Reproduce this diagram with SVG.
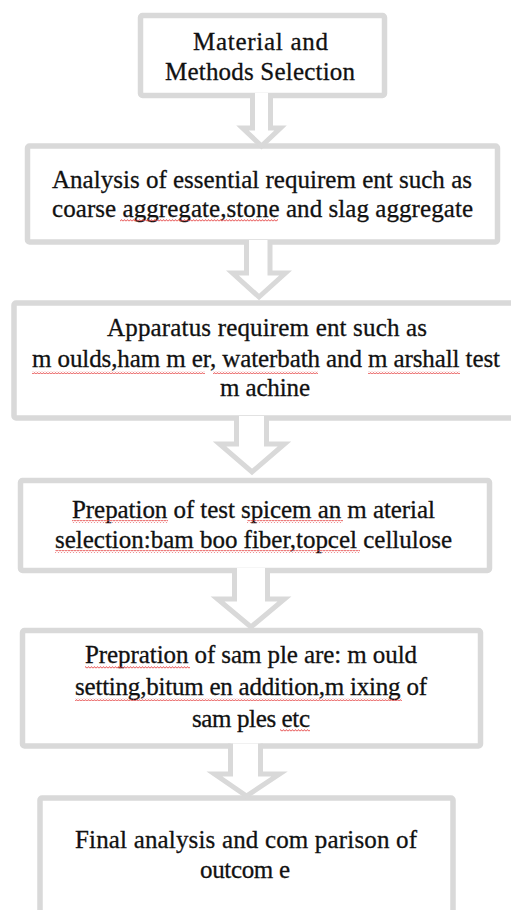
<svg xmlns="http://www.w3.org/2000/svg" width="511" height="910" viewBox="0 0 511 910">
<style>
.box{fill:#ffffff;stroke:#d9d9d9;stroke-width:5.5;}
.arr{fill:#ffffff;stroke:#d9d9d9;stroke-width:5;stroke-linejoin:miter;}
.t{font-family:"Liberation Serif","Times New Roman",serif;font-size:25px;fill:#111111;stroke:#111111;stroke-width:0.3;text-anchor:middle;}
.sq{fill:url(#wave);}
</style>
<defs>
<pattern id="wave" width="3" height="3" patternUnits="userSpaceOnUse">
<path d="M0,2.4 L1.5,0.6 L3,2.4" fill="none" stroke="#e23a3a" stroke-width="0.9"/>
</pattern>
</defs>
<rect x="0" y="0" width="511" height="910" fill="#ffffff"/>

<g id="n1">
<rect class="box" x="140.5" y="15.5" width="244" height="80" rx="2"/>
<text class="t" x="260.5" y="50" textLength="135" lengthAdjust="spacing">Material and</text>
<text class="t" x="260" y="80" textLength="190" lengthAdjust="spacing">Methods Selection</text>
</g>

<g id="n2">
<rect class="box" x="27.5" y="146" width="470" height="96" rx="2"/>
<text class="t" x="262" y="188" textLength="420" lengthAdjust="spacing">Analysis of essential requirem ent such as</text>
<text class="t" x="262.5" y="217" textLength="421" lengthAdjust="spacing">coarse aggregate,stone and slag aggregate</text>
<rect class="sq" x="120" y="219" width="158" height="3"/>
</g>

<g id="n3">
<rect class="box" x="14" y="303" width="502" height="115" rx="2"/>
<text class="t" x="267" y="336" textLength="320" lengthAdjust="spacing">Apparatus requirem ent such as</text>
<text class="t" x="266" y="367" textLength="468" lengthAdjust="spacing">m oulds,ham m er, waterbath and m arshall test</text>
<text class="t" x="265" y="396" textLength="90" lengthAdjust="spacing">m achine</text>
<rect class="sq" x="32" y="371" width="173" height="3"/>
<rect class="sq" x="213" y="371" width="105" height="3"/>
<rect class="sq" x="368" y="371" width="92" height="3"/>
</g>

<g id="n4">
<rect class="box" x="20.5" y="480.5" width="469" height="90" rx="2"/>
<text class="t" x="253.5" y="518" textLength="363" lengthAdjust="spacing">Prepation of test spicem an m aterial</text>
<text class="t" x="253.5" y="548" textLength="397" lengthAdjust="spacing">selection:bam boo fiber,topcel cellulose</text>
<rect class="sq" x="72" y="520" width="96" height="3"/>
<rect class="sq" x="247" y="520" width="96" height="3"/>
<rect class="sq" x="55" y="550" width="305" height="3"/>
</g>

<g id="n5">
<rect class="box" x="22.5" y="630.5" width="458" height="115.5" rx="2"/>
<text class="t" x="251" y="663" textLength="332" lengthAdjust="spacing">Prepration of sam ple are: m ould</text>
<text class="t" x="251" y="695" textLength="352" lengthAdjust="spacing">setting,bitum en addition,m ixing of</text>
<text class="t" x="251" y="727" textLength="118" lengthAdjust="spacing">sam ples etc</text>
<rect class="sq" x="85" y="666" width="105" height="3"/>
<rect class="sq" x="75" y="698" width="327" height="3"/>
<rect class="sq" x="280" y="729" width="30" height="3"/>
</g>

<g id="n6">
<rect class="box" x="40" y="798" width="413" height="130" rx="2"/>
<text class="t" x="246" y="848" textLength="342" lengthAdjust="spacing">Final analysis and com parison of</text>
<text class="t" x="245" y="878" textLength="90" lengthAdjust="spacing">outcom e</text>
</g>

<g id="connectors">
<path class="arr" d="M252.5,93 V128 H242.5 L261.5,146 L280.5,128 H270.5 V93"/>
<path class="arr" d="M246.5,240 V273 H232.5 L259,297 L285.5,273 H270 V240"/>
<path class="arr" d="M236.5,416 V444 H219.5 L252,472 L284.5,444 H266.5 V416"/>
<path class="arr" d="M234.5,568 V599 H217.5 L251,627 L284.5,599 H267.5 V568"/>
<path class="arr" d="M230.5,743.5 V774 H214.5 L246.5,796 L279.5,774 H260.5 V743.5"/>
</g>
</svg>
